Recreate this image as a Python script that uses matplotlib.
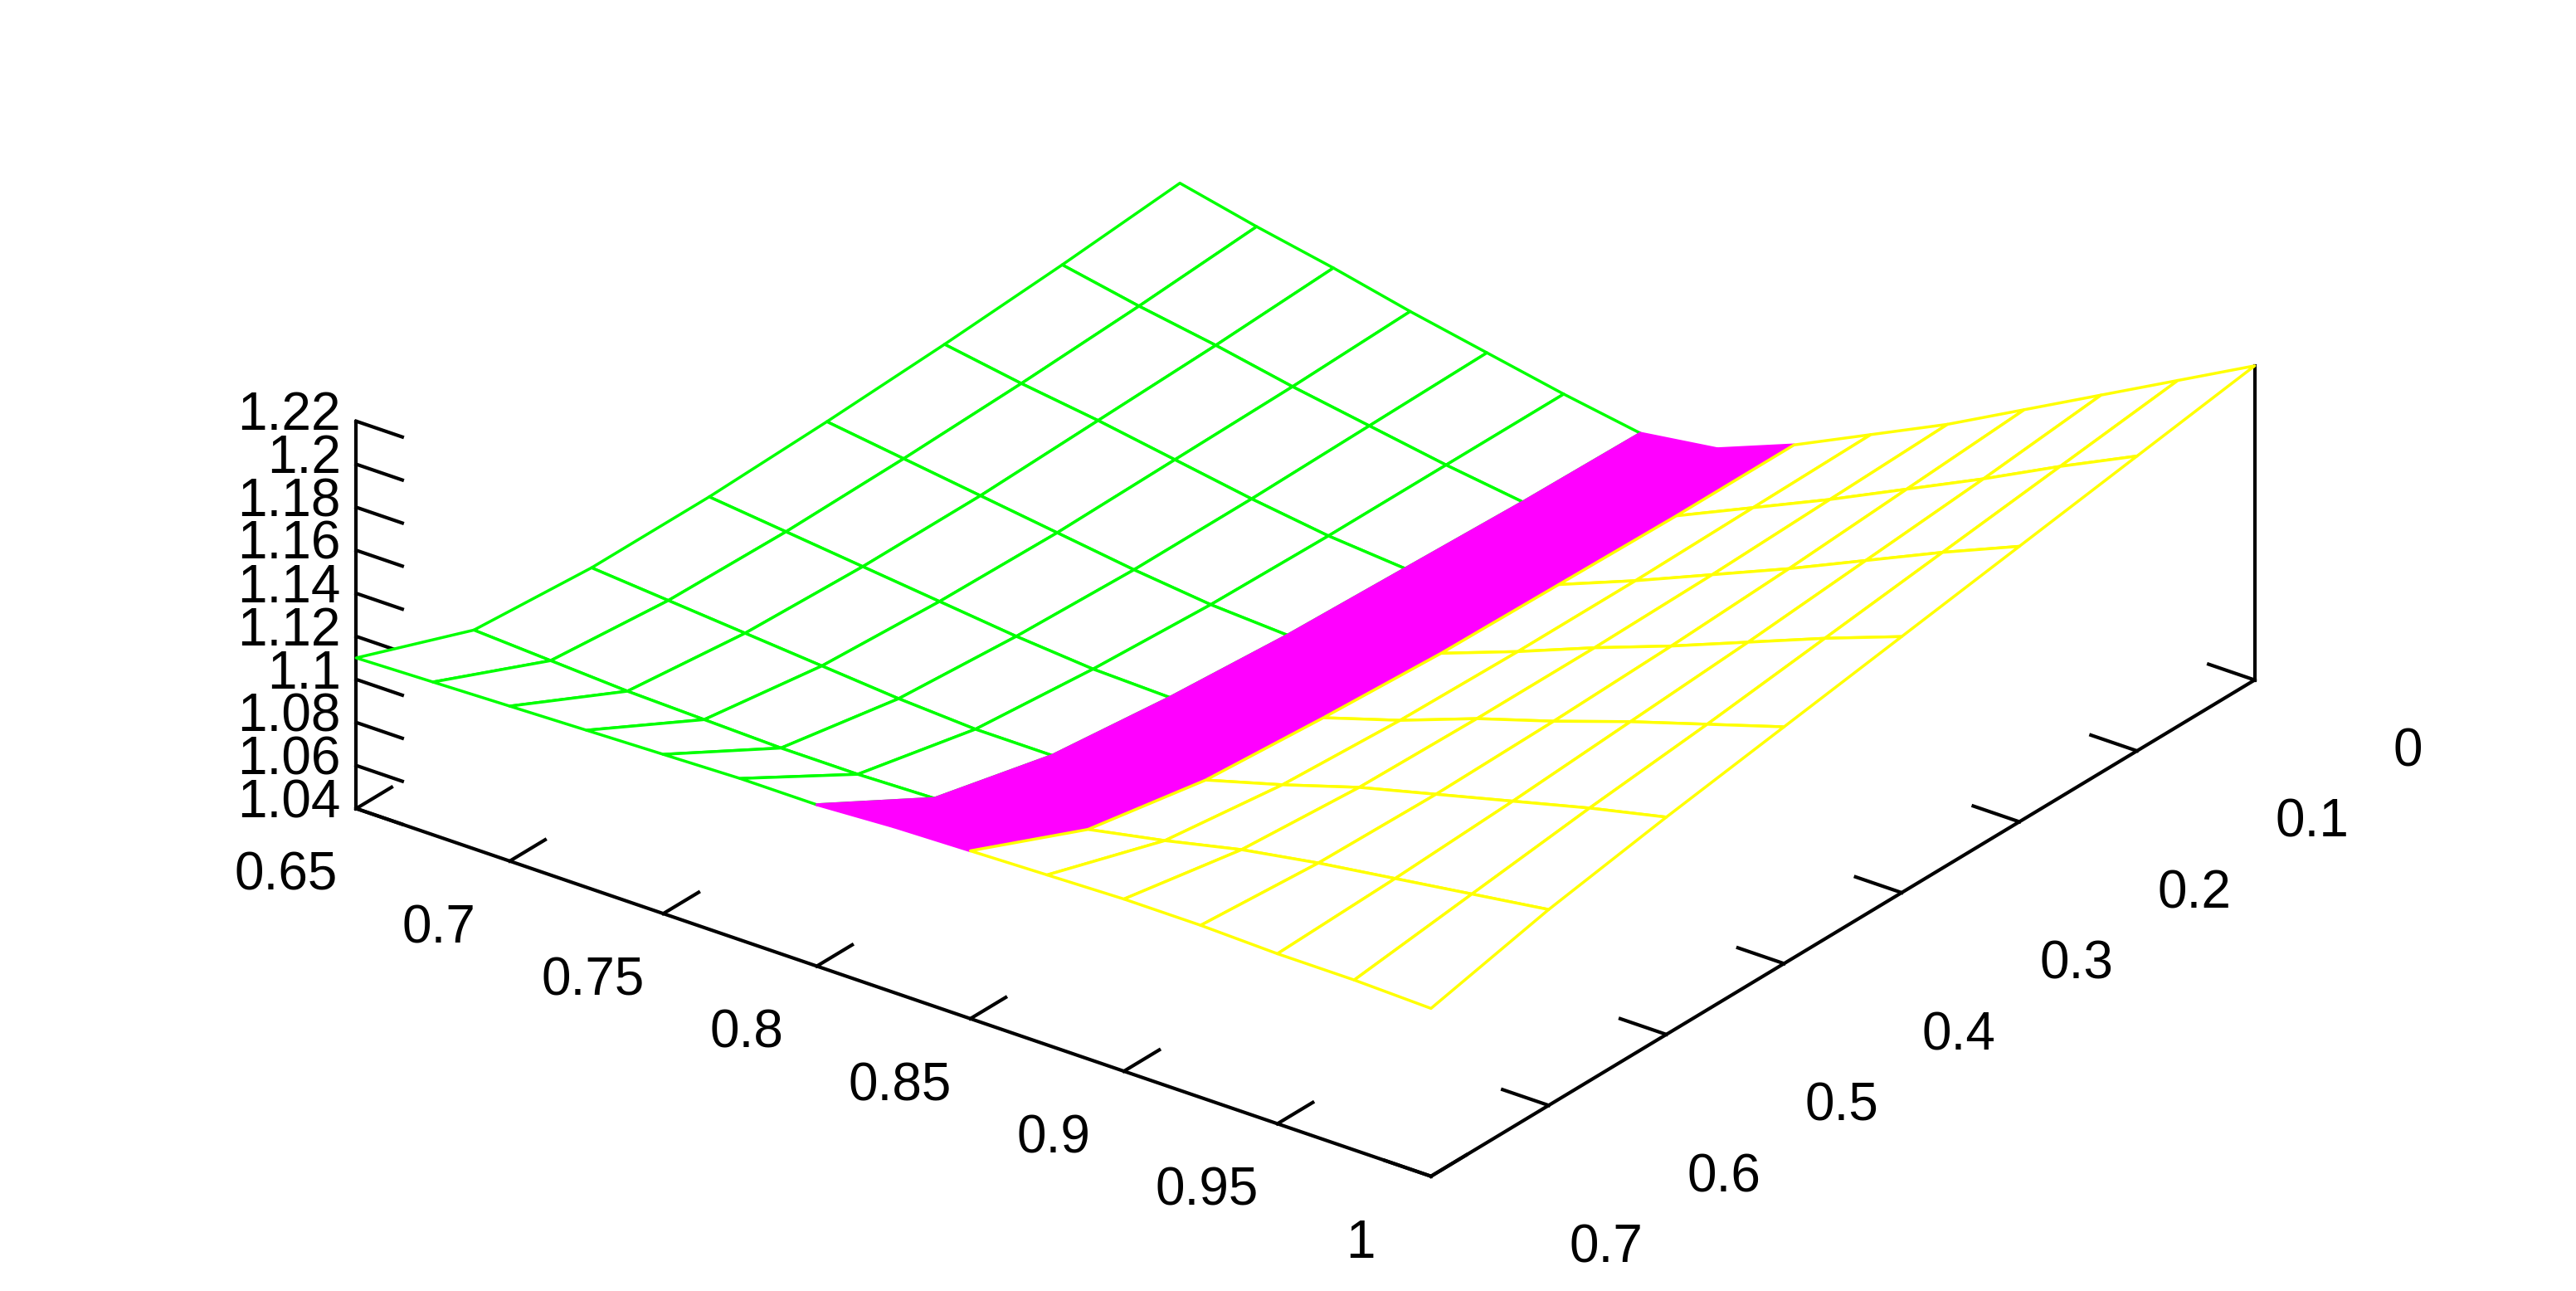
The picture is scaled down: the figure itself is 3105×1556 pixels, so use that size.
import numpy as np
import matplotlib
matplotlib.use("Agg")
import matplotlib.pyplot as plt
from mpl_toolkits.mplot3d.art3d import Poly3DCollection

# ---------- data ----------
x_values = [0.65, 0.675, 0.70, 0.725, 0.75, 0.775, 0.80, 0.825,
            0.85, 0.875, 0.90, 0.925, 0.95, 0.975, 1.00]
y_values = [0.0, 0.1, 0.2, 0.3, 0.4, 0.5, 0.6, 0.7]
# one row per x value, columns follow y_values
z_values = [
    [1.100, 1.095, 1.091, 1.088, 1.086, 1.086, 1.090, 1.110],
    [1.092, 1.088, 1.085, 1.083, 1.082, 1.083, 1.088, 1.111],
    [1.085, 1.082, 1.080, 1.078, 1.078, 1.080, 1.086, 1.112],
    [1.077, 1.075, 1.074, 1.073, 1.074, 1.077, 1.085, 1.113],
    [1.070, 1.069, 1.068, 1.068, 1.070, 1.074, 1.084, 1.114],
    [1.063, 1.063, 1.063, 1.064, 1.067, 1.072, 1.084, 1.115],
    [1.057, 1.058, 1.060, 1.062, 1.066, 1.072, 1.085, 1.115],
    [1.062, 1.063, 1.065, 1.067, 1.070, 1.076, 1.088, 1.117],
    [1.076, 1.076, 1.077, 1.078, 1.081, 1.085, 1.095, 1.118],
    [1.093, 1.092, 1.091, 1.091, 1.092, 1.095, 1.102, 1.119],
    [1.110, 1.108, 1.106, 1.105, 1.105, 1.106, 1.110, 1.120],
    [1.129, 1.125, 1.121, 1.118, 1.116, 1.115, 1.116, 1.120],
    [1.148, 1.142, 1.137, 1.132, 1.128, 1.124, 1.121, 1.119],
    [1.167, 1.160, 1.153, 1.146, 1.139, 1.133, 1.126, 1.119],
    [1.186, 1.177, 1.168, 1.159, 1.150, 1.141, 1.131, 1.118],
]
band_lo, band_hi = 0.80, 0.85   # magenta band in x

x_ticks = [0.65, 0.70, 0.75, 0.80, 0.85, 0.90, 0.95, 1.00]
x_tick_labels = ["0.65", "0.7", "0.75", "0.8", "0.85", "0.9", "0.95", "1"]
y_ticks = [0.0, 0.1, 0.2, 0.3, 0.4, 0.5, 0.6, 0.7]
y_tick_labels = ["0", "0.1", "0.2", "0.3", "0.4", "0.5", "0.6", "0.7"]
z_ticks = [1.04, 1.06, 1.08, 1.10, 1.12, 1.14, 1.16, 1.18, 1.20, 1.22]
z_tick_labels = ["1.04", "1.06", "1.08", "1.1", "1.12", "1.14", "1.16", "1.18", "1.2", "1.22"]

GREEN, MAGENTA, YELLOW = "#00ff00", "#ff00ff", "#ffff00"
YMAX = 0.7
ZMIN = 1.04

X = np.array(x_values)
Yp = YMAX - np.array(y_values)     # flipped so y=0.7 is the front edge
Z = np.array(z_values)

fig = plt.figure(figsize=(31.05, 15.56), dpi=100)
ax = fig.add_axes([0.0, 0.06, 1.0, 1.0], projection="3d", proj_type="ortho")
ax.view_init(elev=27, azim=-53)
ax.set_box_aspect((1, 1.017, 0.323), zoom=1.48)
ax.set_xlim(0.65, 1.0)
ax.set_ylim(0, YMAX)
ax.set_zlim(ZMIN, 1.22)
ax.set_axis_off()

# ---------- surface as a face collection (white faces hide lines behind) ----------
polys, fcs, ecs = [], [], []
for i in range(len(X) - 1):
    xm = 0.5 * (X[i] + X[i + 1])
    if xm < band_lo:
        fc, ec = "white", GREEN
    elif xm < band_hi:
        fc, ec = MAGENTA, MAGENTA
    else:
        fc, ec = "white", YELLOW
    for j in range(len(Yp) - 1):
        polys.append([(X[i], Yp[j], Z[i, j]), (X[i + 1], Yp[j], Z[i + 1, j]),
                      (X[i + 1], Yp[j + 1], Z[i + 1, j + 1]), (X[i], Yp[j + 1], Z[i, j + 1])])
        fcs.append(fc)
        ecs.append(ec)
surf = Poly3DCollection(polys, facecolors=fcs, edgecolors=ecs, linewidths=2.5)
surf.set_clip_on(False)
ax.add_collection3d(surf)

# ---------- border and ticks ----------
k = dict(color="black", lw=3, clip_on=False)
ax.plot([0.65, 1.0], [0, 0], [ZMIN, ZMIN], **k)          # x axis (front-left)
ax.plot([1.0, 1.0], [0, YMAX], [ZMIN, ZMIN], **k)        # y axis (front-right)
ax.plot([0.65, 0.65], [0, 0], [ZMIN, 1.22], **k)         # z axis (left)
ax.plot([1.0, 1.0], [YMAX, YMAX], [ZMIN, Z[-1, 0]], **k) # back right vertical

font = dict(fontsize=46, family="Liberation Sans")
for xv, lab in zip(x_ticks, x_tick_labels):
    ax.plot([xv, xv], [0, 0.03], [ZMIN, ZMIN], **k)
    ax.text(xv, -0.06, ZMIN, lab, ha="center", va="top", **font)
for yv, lab in zip(y_ticks, y_tick_labels):
    ax.plot([1.0, 0.985], [YMAX - yv] * 2, [ZMIN, ZMIN], **k)
    ax.text(1.045, YMAX - yv, ZMIN, lab, ha="left", va="top", **font)
for zv, lab in zip(z_ticks, z_tick_labels):
    ax.plot([0.65, 0.665], [0, 0], [zv, zv], **k)
    ax.text(0.645, 0, zv, lab, ha="right", va="center", **font)

fig.savefig("out.png", dpi=100, facecolor="white")
